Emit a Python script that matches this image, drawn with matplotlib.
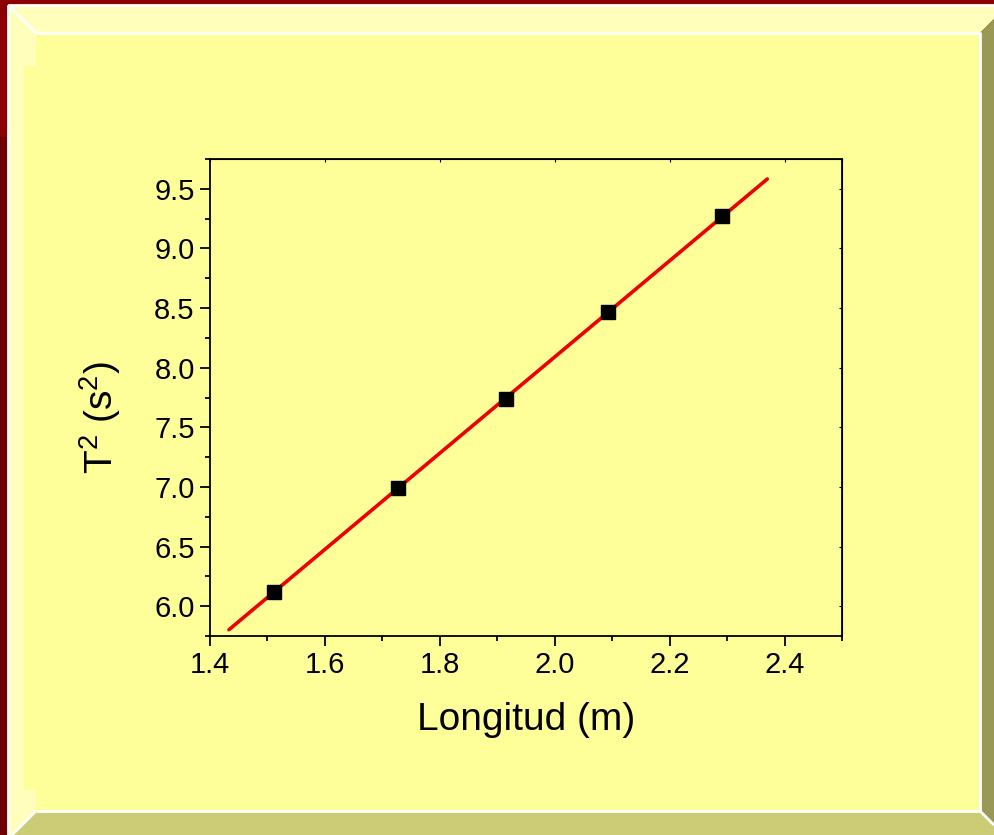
import numpy as np
import matplotlib.pyplot as plt
from matplotlib.patches import Polygon, Rectangle

# measured data (pendulum): length vs period squared
longitud = [1.511, 1.727, 1.915, 2.093, 2.292]
periodo2 = [6.117, 6.995, 7.736, 8.470, 9.268]
fit_range = [1.433, 2.370]

x_ticks = [1.4, 1.6, 1.8, 2.0, 2.2, 2.4]
y_ticks = [6.0, 6.5, 7.0, 7.5, 8.0, 8.5, 9.0, 9.5]

plt.rcParams['font.family'] = ['Liberation Sans', 'DejaVu Sans']
plt.rcParams['mathtext.fontset'] = 'custom'
plt.rcParams['mathtext.rm'] = 'Liberation Sans'
plt.rcParams['mathtext.it'] = 'Liberation Sans'

W, H = 994, 835
fig = plt.figure(figsize=(W / 100, H / 100), dpi=100)
fig.patch.set_facecolor('#ffff99')

# slide-like beveled frame, drawn in pixel space
bg = fig.add_axes([0, 0, 1, 1])
bg.set_xlim(0, W)
bg.set_ylim(H, 0)
bg.axis('off')

bg.add_patch(Rectangle((0, 0), W, 137, color='#8b0000', lw=0))
bg.add_patch(Rectangle((0, 137), W, H, color='#6e0000', lw=0))
face = '#ffff99'
light = '#ffffbb'
bg.add_patch(Polygon([(8, 5), (1008, 5), (980, 33), (36, 33)], color=light, lw=0))
bg.add_patch(Polygon([(8, 5), (36, 33), (36, 811), (8, 839)], color=light, lw=0))
bg.add_patch(Polygon([(980, 33), (1008, 5), (1008, 839), (980, 811)], color='#999955', lw=0))
bg.add_patch(Polygon([(36, 811), (980, 811), (1008, 839), (8, 839)], color='#cccc77', lw=0))
bg.add_patch(Rectangle((36, 33), 944, 778, color=face, lw=0))
bg.add_patch(Rectangle((24, 66), 12, 724, color=face, lw=0))
white = dict(color='white', lw=2, solid_capstyle='butt')
bg.plot([8, 1008], [5, 5], **white)
bg.plot([8, 8], [5, 839], **white)
bg.plot([8, 36], [5, 33], **white)
bg.plot([36, 980, 980, 36], [33, 33, 811, 811], **white)
bg.plot([36, 12], [811, 835], **white)
bg.plot([980, 994], [811, 825], **white)

# main plot
ax = fig.add_axes([210 / W, 1 - 636 / H, 632 / W, 477 / H])
ax.set_facecolor('none')

coef = np.polyfit(longitud, periodo2, 1)
xf = np.array(fit_range)
ax.plot(xf, np.polyval(coef, xf), color='#ee0000', lw=2.6, solid_capstyle='round', zorder=2)
ax.plot(longitud, periodo2, 's', color='black', ms=9.8, zorder=3)

ax.set_xlim(1.4, 2.5)
ax.set_ylim(5.75, 9.75)
ax.set_xticks(x_ticks)
ax.set_yticks(y_ticks)
ax.set_xticks(np.arange(1.5, 2.51, 0.2), minor=True)
ax.set_yticks(np.arange(5.75, 9.76, 0.5), minor=True)
ax.set_xticklabels([f'{v:.1f}' for v in x_ticks])
ax.set_yticklabels([f'{v:.1f}' for v in y_ticks])

for s in ax.spines.values():
    s.set_linewidth(1.3)
ax.tick_params(which='major', direction='out', length=7, width=1.3, labelsize=21, pad=4)
ax.tick_params(which='minor', direction='out', length=3.5, width=1.3)

# small inward ticks on top/right
top = ax.secondary_xaxis('top')
top.set_xticks(x_ticks + [2.5])
top.tick_params(direction='in', length=2, width=0.8, labeltop=False)
right = ax.secondary_yaxis('right')
right.set_yticks(y_ticks)
right.tick_params(direction='in', length=2, width=0.8, labelright=False)

ax.set_xlabel('Longitud (m)', fontsize=28, labelpad=16)
ax.set_ylabel('T$^2$ (s$^2$)', fontsize=28)
ax.yaxis.set_label_coords(-0.138, 0.458)

fig.savefig('out.png', dpi=100, facecolor=fig.get_facecolor())
